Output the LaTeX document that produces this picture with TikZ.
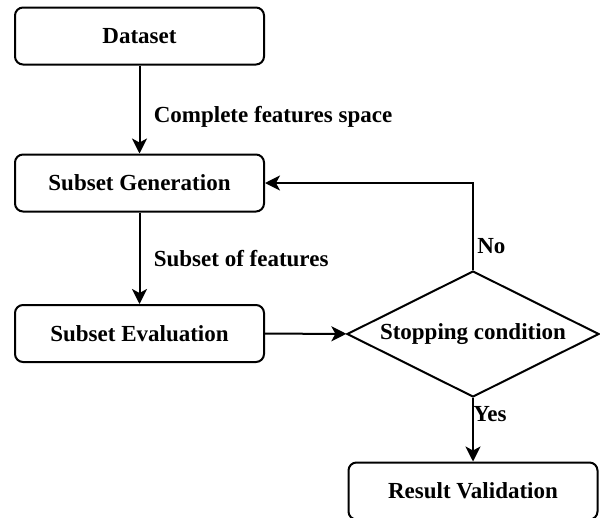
\documentclass[tikz,border=0pt]{standalone}
\usepackage{fontspec}
\setmainfont{Liberation Serif}
\usetikzlibrary{arrows.meta, positioning, shapes.geometric}

\begin{document}
\begin{tikzpicture}[x=1pt, y=-1pt, line width=2pt,
  every node/.style={font=\fontsize{23}{27}\selectfont\bfseries},
  box/.style={draw, rounded corners=8pt, minimum width=249pt, minimum height=57pt, inner sep=0pt},
  decision/.style={draw, diamond, aspect=2, minimum width=252pt, minimum height=126pt, inner sep=0pt},
  flow/.style={-{Stealth[length=15pt, width=15pt, inset=4pt]}}]
  \useasboundingbox (0,0) rectangle (600,517);

  % Steps
  \node[box] (data) at (139.5,36) {Dataset};
  \node[box] (gen) at (139.5,183) {Subset Generation};
  \node[box] (eval) at (139.5,333.5) {Subset Evaluation};

  % Decision
  \node[decision] (stop) at (473,334) {Stopping condition};

  % Result
  \node[box] (res) at (473,491) {Result Validation};

  \draw[flow] (data) -- (gen) node[pos=0.58, right=10pt] {Complete features space};
  \draw[flow] (gen) -- (eval) node[midway, right=10pt] {Subset of features};
  \draw[flow] (eval) -- (stop);
  \draw[flow] (stop.north) |- (gen.east) node[pos=0.136, right] {No};
  \draw[flow] (stop.south) -- (res) node[pos=0.25, right, xshift=-4pt] {Yes};
\end{tikzpicture}
\end{document}
